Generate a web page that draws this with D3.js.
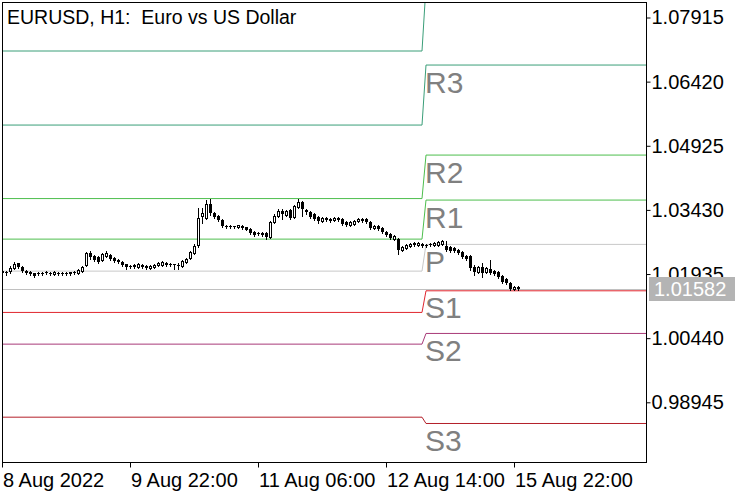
<!DOCTYPE html>
<html><head><meta charset="utf-8">
<script src="https://cdn.jsdelivr.net/npm/d3@7"></script>
<style>body{margin:0;background:#fff}svg{display:block}text{font-family:"Liberation Sans",Arial,sans-serif}</style>
</head><body><svg id="c" width="750" height="500"></svg>
<script>
const title = "EURUSD, H1:  Euro vs US Dollar";
const open = [1.02015,1.01992,1.02003,1.02073,1.02190,1.02097,1.02003,1.01980,1.01957,1.01934,
1.01969,1.01957,1.01969,1.01934,1.01969,1.01934,1.01969,1.01980,1.01957,1.01969,
1.02015,1.02143,1.02423,1.02365,1.02330,1.02272,1.02353,1.02388,1.02307,1.02260,
1.02213,1.02167,1.02132,1.02143,1.02108,1.02155,1.02120,1.02085,1.02108,1.02143,
1.02155,1.02190,1.02155,1.02167,1.02120,1.02120,1.02213,1.02307,1.02423,1.02610,
1.03286,1.03239,1.03577,1.03356,1.03286,1.03193,1.03053,1.03025,1.03053,1.03022,
1.03053,1.03022,1.02983,1.02925,1.02866,1.02901,1.02890,1.02796,1.03146,1.03286,
1.03414,1.03321,1.03426,1.03263,1.03496,1.03612,1.03437,1.03379,1.03333,1.03263,
1.03169,1.03239,1.03228,1.03204,1.03251,1.03216,1.03158,1.03088,1.03111,1.03169,
1.03228,1.03216,1.03146,1.03006,1.03064,1.03006,1.02925,1.02866,1.02761,1.02761,
1.02493,1.02540,1.02598,1.02656,1.02610,1.02645,1.02598,1.02633,1.02621,1.02621,
1.02633,1.02598,1.02563,1.02540,1.02505,1.02446,1.02353,1.02353,1.02097,1.01992,
1.02097,1.01992,1.02062,1.02015,1.01980,1.01899,1.01829,1.01724,1.01584,1.01630];
const high = [1.02038,1.02003,1.02120,1.02213,1.02202,1.02120,1.02027,1.02003,1.01969,1.01980,
1.01980,1.02003,1.01992,1.02003,1.01980,1.01980,1.01992,1.01992,1.02003,1.02050,
1.02120,1.02458,1.02470,1.02388,1.02353,1.02435,1.02481,1.02412,1.02330,1.02283,
1.02237,1.02178,1.02155,1.02167,1.02190,1.02167,1.02143,1.02155,1.02167,1.02213,
1.02237,1.02213,1.02202,1.02178,1.02202,1.02260,1.02318,1.02481,1.02633,1.03472,
1.03484,1.03659,1.03675,1.03391,1.03309,1.03216,1.03076,1.03076,1.03064,1.03088,
1.03076,1.03041,1.03006,1.02948,1.02925,1.02925,1.02913,1.03169,1.03333,1.03449,
1.03461,1.03437,1.03449,1.03554,1.03675,1.03636,1.03461,1.03402,1.03356,1.03286,
1.03274,1.03263,1.03251,1.03274,1.03274,1.03239,1.03181,1.03169,1.03204,1.03239,
1.03251,1.03239,1.03169,1.03088,1.03088,1.03029,1.02948,1.02890,1.02855,1.02785,
1.02586,1.02633,1.02668,1.02680,1.02680,1.02668,1.02645,1.02656,1.02691,1.02715,
1.02726,1.02703,1.02586,1.02563,1.02528,1.02470,1.02376,1.02376,1.02143,1.02120,
1.02190,1.02108,1.02260,1.02038,1.02003,1.01922,1.01852,1.01747,1.01665,1.01654];
const low = [1.01887,1.01910,1.01969,1.02050,1.02085,1.01980,1.01934,1.01910,1.01875,1.01910,
1.01922,1.01934,1.01922,1.01910,1.01910,1.01910,1.01922,1.01910,1.01934,1.01945,
1.01980,1.02120,1.02283,1.02237,1.02202,1.02237,1.02330,1.02260,1.02213,1.02190,
1.02120,1.02050,1.02073,1.02073,1.02085,1.02073,1.02050,1.02062,1.02085,1.02120,
1.02132,1.02132,1.02132,1.02050,1.02062,1.02097,1.02190,1.02283,1.02400,1.02575,
1.03123,1.03216,1.03309,1.03239,1.03169,1.03029,1.03006,1.03006,1.03006,1.03006,
1.02994,1.02959,1.02878,1.02831,1.02843,1.02831,1.02750,1.02773,1.03123,1.03263,
1.03228,1.03298,1.03216,1.03239,1.03472,1.03286,1.03344,1.03239,1.03204,1.03123,
1.03146,1.03169,1.03146,1.03181,1.03181,1.03088,1.03053,1.03064,1.03088,1.03146,
1.03158,1.03123,1.02983,1.02983,1.02971,1.02890,1.02820,1.02750,1.02738,1.02400,
1.02470,1.02516,1.02575,1.02586,1.02586,1.02575,1.02575,1.02586,1.02598,1.02598,
1.02610,1.02481,1.02446,1.02458,1.02400,1.02318,1.02260,1.02027,1.01910,1.01969,
1.01875,1.01969,1.01934,1.01910,1.01852,1.01735,1.01700,1.01572,1.01560,1.01572];
const close = [1.01969,1.01957,1.02085,1.02178,1.02108,1.02003,1.01969,1.01934,1.01899,1.01957,
1.01945,1.01980,1.01945,1.01980,1.01934,1.01957,1.01945,1.01934,1.01992,1.02027,
1.02097,1.02423,1.02342,1.02272,1.02225,1.02400,1.02435,1.02283,1.02248,1.02213,
1.02143,1.02097,1.02108,1.02097,1.02167,1.02097,1.02073,1.02132,1.02155,1.02190,
1.02213,1.02155,1.02167,1.02143,1.02155,1.02237,1.02295,1.02458,1.02598,1.03251,
1.03368,1.03577,1.03356,1.03263,1.03193,1.03053,1.03034,1.03046,1.03029,1.03069,
1.03018,1.02971,1.02901,1.02855,1.02901,1.02855,1.02796,1.03146,1.03298,1.03414,
1.03344,1.03414,1.03251,1.03531,1.03612,1.03461,1.03379,1.03263,1.03228,1.03169,
1.03251,1.03193,1.03169,1.03251,1.03204,1.03111,1.03076,1.03146,1.03181,1.03216,
1.03181,1.03146,1.03006,1.03064,1.02994,1.02925,1.02843,1.02773,1.02831,1.02493,
1.02563,1.02610,1.02645,1.02610,1.02656,1.02598,1.02621,1.02610,1.02668,1.02691,
1.02703,1.02493,1.02470,1.02481,1.02423,1.02342,1.02283,1.02073,1.01992,1.02097,
1.01957,1.02085,1.01957,1.01934,1.01875,1.01759,1.01724,1.01595,1.01642,1.01582];
const xTickBars = [0, 32, 64, 96, 128];
const xTickLabels = ["8 Aug 2022", "9 Aug 22:00", "11 Aug 06:00", "12 Aug 14:00", "15 Aug 22:00"];
const yTickValues = [1.07915, 1.06420, 1.04925, 1.03430, 1.01935, 1.00440, 0.98945];
const pivotLabels = ["", "R3", "R2", "R1", "P", "S1", "S2", "S3"];
const pivotPrev = [1.07134, 1.05408, 1.03694, 1.02749, 1.02003, 1.01040, 1.00301, 0.98598];
const pivotCurr = [1.08650, 1.06807, 1.04708, 1.03659, 1.02626, 1.01544, 1.00550, 0.98451];
const pivotColors = ["#3a9e78", "#3a9e78", "#4dbe4d", "#4dbe4d", "#c8c8c8", "#e0262e", "#a83a78", "#b4202a"];
const lastPrice = 1.01582;
const weekStartBar = 106;
const lastVisibleBar = 161;

const svg = d3.select("#c");
const L = 2, T = 2, R = 646, B = 462;
const x = d3.scaleLinear().domain([0, lastVisibleBar]).range([L, R]);
const y = d3.scaleLinear().domain([0.98945, 1.07915]).range([402.3, 17.5]);

svg.append("rect").attr("width", 750).attr("height", 500).attr("fill", "#fff");
svg.append("defs").append("clipPath").attr("id", "plot")
  .append("rect").attr("x", L).attr("y", T).attr("width", R - L).attr("height", B - T);

const g = svg.append("g").attr("clip-path", "url(#plot)");

// pivot lines
const line = d3.line().x(d => x(d[0])).y(d => y(d[1]));
pivotPrev.forEach((pv, k) => {
  const pts = [[0, pv], [weekStartBar - 1, pv], [weekStartBar, pivotCurr[k]], [lastVisibleBar, pivotCurr[k]]];
  g.append("path").attr("d", line(pts)).attr("fill", "none")
    .attr("stroke", pivotColors[k]).attr("stroke-width", 1);
});
// pivot labels
pivotLabels.forEach((lab, k) => {
  if (!lab) return;
  g.append("text").attr("x", x(weekStartBar) - 1).attr("y", y(pivotCurr[k]) + 27.5)
    .attr("font-size", 30).attr("fill", "#808080").text(lab);
});
// bid line
g.append("line").attr("x1", L).attr("x2", R)
  .attr("y1", Math.round(y(lastPrice)) + 0.5).attr("y2", Math.round(y(lastPrice)) + 0.5)
  .attr("stroke", "#c0c0c0").attr("stroke-width", 1);

// candles
const cg = g.append("g").attr("shape-rendering", "crispEdges");
open.forEach((o, i) => {
  const c = close[i];
  const cx = Math.round(x(i));
  cg.append("line").attr("x1", cx + 0.5).attr("x2", cx + 0.5)
    .attr("y1", Math.round(y(high[i]))).attr("y2", Math.round(y(low[i])) + 1)
    .attr("stroke", "#000");
  const top = Math.round(y(Math.max(o, c)));
  const bot = Math.round(y(Math.min(o, c)));
  const h = bot - top;
  if (c > o && h >= 2) {
    cg.append("rect").attr("x", cx - 0.5).attr("y", top + 0.5).attr("width", 2).attr("height", h)
      .attr("fill", "#fff").attr("stroke", "#000").attr("stroke-width", 1);
  } else {
    cg.append("rect").attr("x", cx - 1).attr("y", top).attr("width", 3).attr("height", Math.max(1, h))
      .attr("fill", "#000");
  }
});

// frame
svg.append("rect").attr("x", L + 0.5).attr("y", T + 0.5).attr("width", R - L).attr("height", B - T)
  .attr("fill", "none").attr("stroke", "#000").attr("stroke-width", 1);

// y axis
const ya = svg.append("g").attr("transform", `translate(${R + 0.5},0)`)
  .call(d3.axisRight(y).tickValues(yTickValues).tickSize(4).tickPadding(1).tickFormat(d3.format(".5f")));
ya.select(".domain").remove();
ya.selectAll("line").attr("stroke", "#000");
ya.selectAll("text").attr("font-size", 20).attr("font-family", "Liberation Sans, Arial, sans-serif").attr("fill", "#000");

// x axis
const xa = svg.append("g").attr("transform", `translate(0,${B + 0.5})`)
  .call(d3.axisBottom(x).tickValues(xTickBars).tickSize(5).tickPadding(5.5).tickFormat((d, i) => xTickLabels[i]));
xa.select(".domain").remove();
xa.selectAll(".tick line").attr("stroke", "#000");
xa.selectAll(".tick").attr("transform", d => `translate(${Math.round(x(d)) + 0.5},0)`);
xa.selectAll("text").attr("font-size", 20).attr("font-family", "Liberation Sans, Arial, sans-serif")
  .attr("fill", "#000").attr("text-anchor", "start").attr("x", 0.5);

// current price label
const py = y(lastPrice);
svg.append("rect").attr("x", 649).attr("y", Math.round(py) - 12).attr("width", 86).attr("height", 24).attr("fill", "#b4b4b4");
svg.append("text").attr("x", 654).attr("y", py).attr("dy", "0.35em").attr("font-size", 20)
  .attr("fill", "#fff").text(d3.format(".5f")(lastPrice));

// title
svg.append("text").attr("x", 7).attr("y", 24).attr("font-size", 19.5).attr("fill", "#000")
  .style("white-space", "pre").text(title);
</script>
</body></html>
